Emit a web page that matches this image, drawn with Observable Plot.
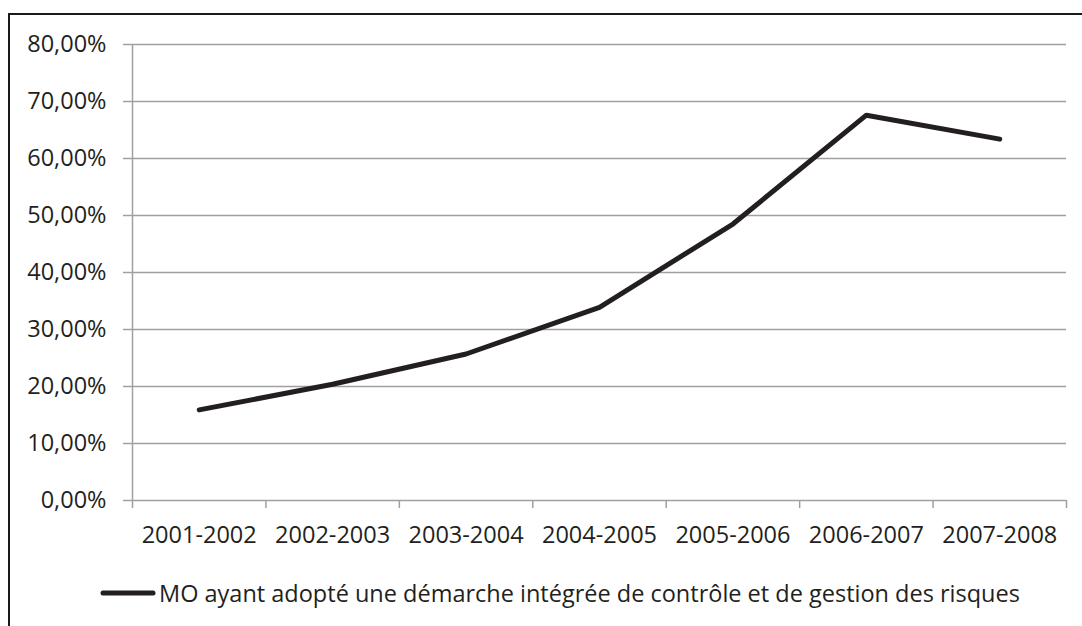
<!DOCTYPE html>
<html>
<head>
<meta charset="utf-8">
<script src="https://cdn.jsdelivr.net/npm/d3@7"></script>
<script src="https://cdn.jsdelivr.net/npm/@observablehq/plot@0.6"></script>
<style>
  html, body { margin: 0; padding: 0; background: #fff; overflow: hidden; }
  #frame {
    position: absolute; left: 8px; top: 13px;
    width: 1100px; height: 640px;
    border: 2px solid #1a1a1a; background: #fff;
    font-family: 'Open Sans', sans-serif; color: #231f20;
  }
  #legend { display: flex; align-items: center; margin-left: 90px; height: 36px; font-size: 23.5px; white-space: nowrap; }
  #legend svg { margin-right: 3px; }
</style>
</head>
<body>
<div id="frame"></div>
<script>
const categories = ["2001-2002", "2002-2003", "2003-2004", "2004-2005", "2005-2006", "2006-2007", "2007-2008"];
const values = [15.9, 20.4, 25.7, 33.9, 48.5, 67.6, 63.4];
const yTicks = [0, 10, 20, 30, 40, 50, 60, 70, 80];
const seriesName = "MO ayant adopté une démarche intégrée de contrôle et de gestion des risques";

const data = categories.map((c, i) => ({ pos: i + 0.5, label: c, v: values[i] }));
const fmt = d => d.toFixed(2).replace(".", ",") + "%";
const grid = "#a0a0a0";
const ink = "#231f20";
const fs = 23.5;

const chart = Plot.plot({
  width: 1072,
  height: 560,
  marginTop: 29,
  marginBottom: 75,
  marginLeft: 122,
  marginRight: 16,
  style: { fontFamily: "'Open Sans', sans-serif", fontSize: fs + "px", color: ink, background: "white" },
  x: { domain: [0, categories.length] },
  y: { domain: [0, 80] },
  marks: [
    Plot.gridY(yTicks, { stroke: grid, strokeOpacity: 1, strokeWidth: 1.5 }),
    Plot.axisY(yTicks, { tickSize: 9, tickPadding: 17, stroke: grid, strokeWidth: 1.5, fill: ink, fontSize: fs, tickFormat: fmt, label: null }),
    Plot.axisX(d3.range(0, categories.length + 1), { tickSize: 8, stroke: grid, strokeWidth: 1.5, tickFormat: () => "", label: null }),
    Plot.axisX(data.map(d => d.pos), { tickSize: 0, tickPadding: 26, fill: ink, fontSize: fs, tickFormat: d => categories[Math.floor(d)], label: null }),
    Plot.ruleX([0], { y1: 0, y2: 80, stroke: grid, strokeWidth: 1.5 }),
    Plot.lineY(data, { x: "pos", y: "v", stroke: ink, strokeWidth: 5, strokeLinejoin: "miter", strokeLinecap: "round" })
  ]
});

const frame = document.getElementById("frame");
frame.appendChild(chart);
const legend = document.createElement("div");
legend.id = "legend";
legend.innerHTML = `<svg width="56" height="10"><line x1="3" y1="5" x2="53" y2="5" stroke="${ink}" stroke-width="5" stroke-linecap="round"/></svg><span>${seriesName}</span>`;
frame.appendChild(legend);
</script>
</body>
</html>
